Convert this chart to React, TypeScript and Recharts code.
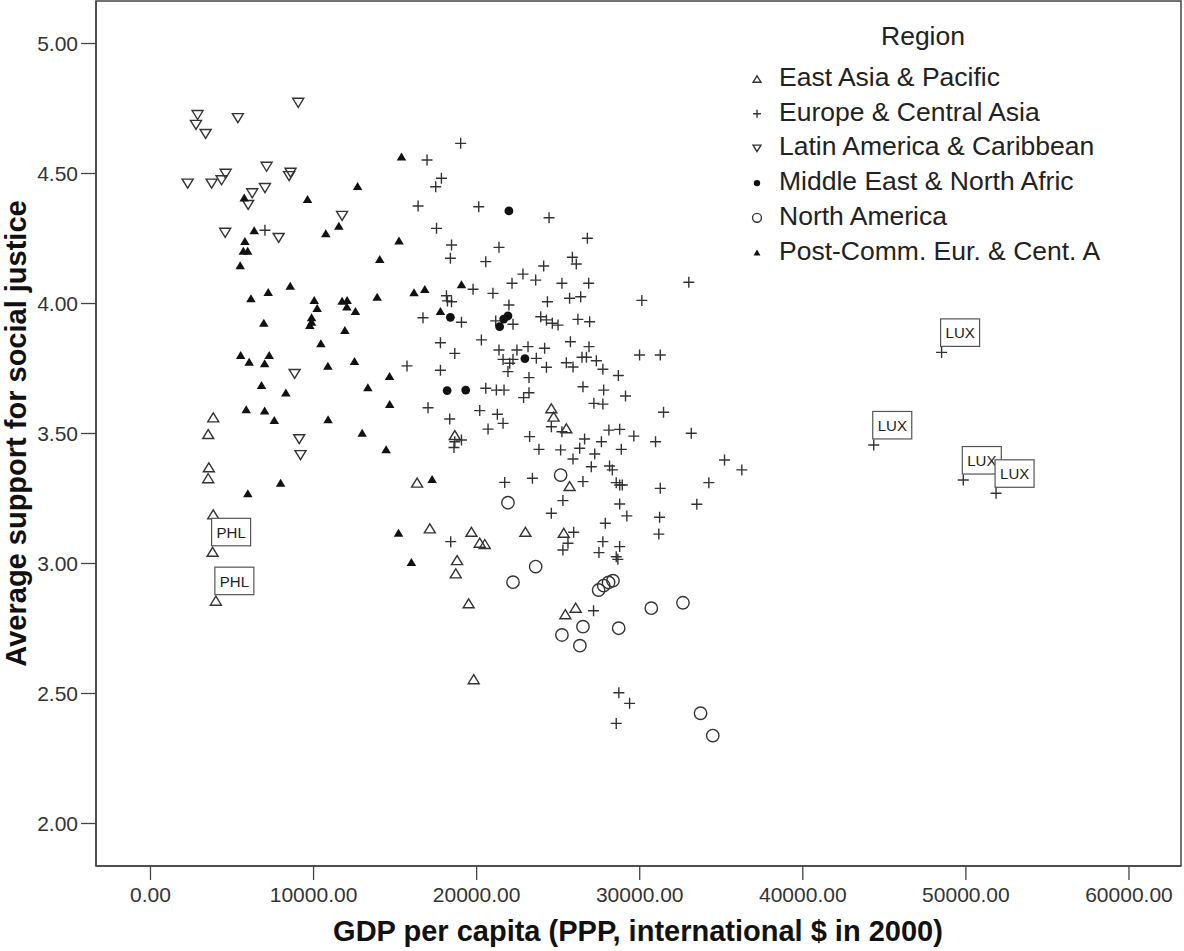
import React from 'react';
import { ScatterChart, Scatter, XAxis, YAxis, Legend, ReferenceArea } from 'recharts';

const FONT = '"Liberation Sans", Arial, Helvetica, sans-serif';
const INK = '#333';

const X_TICKS = [0, 10000, 20000, 30000, 40000, 50000, 60000];
const Y_TICKS = [2, 2.5, 3, 3.5, 4, 4.5, 5];
const X_DOMAIN: [number, number] = [-3340, 63190];
const Y_DOMAIN: [number, number] = [1.8365, 5.1635];

const X_TITLE = 'GDP per capita (PPP, international $ in 2000)';
const Y_TITLE = 'Average support for social justice';
const LEGEND_TITLE = 'Region';

const REGIONS = [
  'East Asia & Pacific',
  'Europe & Central Asia',
  'Latin America & Caribbean',
  'Middle East & North Afric',
  'North America',
  'Post-Comm. Eur. & Cent. A',
];

// [gdp per capita, average support]
const EAST_ASIA = [
  [3850, 3.562], [3540, 3.498], [3580, 3.370], [3540, 3.328], [3850, 3.189],
  [16350, 3.311], [17130, 3.135], [18660, 3.494], [18800, 3.013], [18720, 2.962],
  [19680, 3.122], [20190, 3.080], [20500, 3.075], [19510, 2.847], [19820, 2.555],
  [22990, 3.122], [24580, 3.597], [24720, 3.565], [25500, 3.520], [25700, 3.298],
  [25340, 3.118], [25440, 2.805], [26070, 2.830],
];
const EAST_ASIA_PHL = [[3810, 3.045], [4010, 2.857]];

const EUROPE = [
  [19020, 4.616], [16960, 4.552], [17840, 4.482], [17490, 4.449], [16410, 4.375],
  [20130, 4.372], [24440, 4.330], [17540, 4.289], [26790, 4.251], [18460, 4.225],
  [21370, 4.216], [18390, 4.174], [20560, 4.161], [25870, 4.178], [26110, 4.152],
  [24110, 4.144], [22840, 4.113], [23620, 4.090], [22170, 4.078], [25230, 4.078],
  [26870, 4.078], [19780, 4.055], [21000, 4.039], [18150, 4.030], [18210, 4.010],
  [18460, 4.007], [24340, 4.007], [25700, 4.020], [26380, 4.026], [30130, 4.012],
  [33010, 4.082], [21980, 3.994], [16710, 3.945], [19070, 3.928], [21170, 3.933],
  [22230, 3.920], [23930, 3.949], [24280, 3.937], [24640, 3.924], [24990, 3.917],
  [26210, 3.939], [26930, 3.930], [17780, 3.849], [20290, 3.860], [18660, 3.808],
  [21370, 3.821], [22470, 3.821], [23150, 3.834], [24170, 3.828], [25750, 3.853],
  [26890, 3.834], [21620, 3.785], [22230, 3.785], [22030, 3.770], [23660, 3.789],
  [24280, 3.755], [25500, 3.772], [25910, 3.756], [26460, 3.793], [26730, 3.793],
  [27340, 3.780], [27740, 3.747], [29990, 3.802], [31260, 3.802], [15730, 3.760],
  [17780, 3.743], [21920, 3.738], [23210, 3.715], [28690, 3.723], [20560, 3.674],
  [21210, 3.667], [21680, 3.667], [23210, 3.657], [22880, 3.638], [26520, 3.680],
  [27790, 3.667], [29130, 3.644], [27190, 3.616], [27740, 3.613], [17020, 3.599],
  [18350, 3.556], [20190, 3.588], [21270, 3.574], [21620, 3.539], [20700, 3.517],
  [24580, 3.526], [25230, 3.507], [31460, 3.582], [33160, 3.501], [28110, 3.513],
  [28770, 3.516], [29640, 3.490], [30970, 3.468], [23250, 3.488], [26620, 3.479],
  [26320, 3.443], [27650, 3.468], [28870, 3.439], [23820, 3.439], [25150, 3.437],
  [25910, 3.402], [27240, 3.421], [27030, 3.372], [28150, 3.375], [28320, 3.360],
  [18660, 3.468], [19070, 3.475], [18610, 3.446], [21720, 3.312], [23420, 3.328],
  [26520, 3.315], [28560, 3.311], [28770, 3.302], [28930, 3.302], [31260, 3.289],
  [34240, 3.311], [25290, 3.242], [24580, 3.193], [28770, 3.229], [29210, 3.183],
  [31220, 3.178], [33500, 3.228], [27890, 3.155], [31170, 3.113], [25950, 3.120],
  [18410, 3.084], [25600, 3.078], [25290, 3.052], [27740, 3.084], [27500, 3.042],
  [28770, 3.065], [28560, 3.026], [28660, 3.016], [27170, 2.818], [28720, 2.503],
  [29380, 2.462], [28560, 2.385], [35200, 3.398], [36260, 3.360], [7020, 4.282],
];
const EUROPE_LUX = [[48510, 3.812], [44350, 3.456], [49840, 3.321], [51850, 3.270]];

const LATIN_AMERICA = [
  [2890, 4.725], [2790, 4.687], [3380, 4.652], [5360, 4.713], [9060, 4.772],
  [2280, 4.461], [3750, 4.461], [4360, 4.474], [4610, 4.499], [7120, 4.526],
  [8500, 4.490], [8590, 4.503], [7020, 4.444], [6240, 4.424], [5990, 4.379],
  [11750, 4.337], [4580, 4.272], [7860, 4.252], [8840, 3.729], [9120, 3.478],
  [9200, 3.417],
];

const MIDDLE_EAST = [
  [21980, 4.356], [18390, 3.947], [21920, 3.952], [21660, 3.940], [21410, 3.911],
  [22960, 3.788], [18190, 3.665], [19330, 3.667],
];

const NORTH_AMERICA = [
  [25150, 3.340], [21920, 3.234], [23620, 2.988], [22230, 2.928], [27480, 2.898],
  [27790, 2.915], [28090, 2.927], [28360, 2.934], [30710, 2.828], [32650, 2.849],
  [28710, 2.751], [25230, 2.725], [26520, 2.757], [26330, 2.684], [33730, 2.424],
  [34480, 2.338],
];

const POST_COMM = [
  [15390, 4.565], [12700, 4.452], [9630, 4.402], [5750, 4.408], [6360, 4.282],
  [11550, 4.299], [10750, 4.270], [15240, 4.242], [5790, 4.240], [5690, 4.203],
  [5960, 4.203], [5500, 4.147], [14060, 4.171], [8570, 4.068], [7220, 4.044],
  [6160, 4.020], [10040, 4.013], [10220, 3.983], [11750, 4.011], [12060, 4.013],
  [12040, 3.988], [12570, 3.971], [13900, 4.026], [16160, 4.043], [16820, 4.056],
  [6950, 3.926], [9880, 3.947], [9880, 3.930], [9770, 3.917], [11920, 3.898],
  [10450, 3.847], [5530, 3.802], [6050, 3.776], [7280, 3.802], [7000, 3.770],
  [10880, 3.761], [12510, 3.779], [14660, 3.721], [6810, 3.687], [8300, 3.658],
  [13330, 3.678], [14670, 3.613], [5870, 3.593], [7000, 3.588], [7590, 3.552],
  [10890, 3.555], [12980, 3.503], [14450, 3.439], [7980, 3.311], [5970, 3.270],
  [15210, 3.118], [16000, 3.006], [19070, 4.074], [17780, 3.971], [17270, 3.325],
];

const toPoints = (rows: number[][]) => rows.map(([gdp, support]) => ({ gdp, support }));

// marker glyphs, k = scale (1 in plot, smaller in legend)
const triUp = (cx: number, cy: number, w: number, h: number) =>
  `${cx},${cy - h / 2} ${cx - w / 2},${cy + h / 2} ${cx + w / 2},${cy + h / 2}`;
const triDown = (cx: number, cy: number, w: number, h: number) =>
  `${cx},${cy + h / 2} ${cx - w / 2},${cy - h / 2} ${cx + w / 2},${cy - h / 2}`;

type Glyph = (cx: number, cy: number, k: number) => React.ReactElement;

const MARKERS: Glyph[] = [
  (cx, cy, k) => <polygon points={triUp(cx, cy, 11 * k, 9 * k)} fill="none" stroke={INK} strokeWidth={1.4} />,
  (cx, cy, k) => (
    <path d={`M${cx - 5.5 * k},${cy}H${cx + 5.5 * k}M${cx},${cy - 5.5 * k}V${cy + 5.5 * k}`} stroke={INK} strokeWidth={1.4} fill="none" />
  ),
  (cx, cy, k) => <polygon points={triDown(cx, cy, 11 * k, 9 * k)} fill="none" stroke={INK} strokeWidth={1.4} />,
  (cx, cy, k) => <circle cx={cx} cy={cy} r={4.4 * k} fill="#111" />,
  (cx, cy, k) => <circle cx={cx} cy={cy} r={6.2 * k} fill="none" stroke={INK} strokeWidth={1.4} />,
  (cx, cy, k) => <polygon points={triUp(cx, cy, 9.5 * k, 8 * k)} fill="#111" />,
];

const shapeFor = (i: number) => (props: any) => MARKERS[i](props.cx, props.cy, 1);

const taggedShape = (i: number, tag: string) => (props: any) => {
  const { cx, cy } = props;
  return (
    <g>
      <rect x={cx - 1} y={cy - 33.5} width={39} height={27.5} fill="#fff" stroke="#555" strokeWidth={1.2} />
      <text x={cx + 4} y={cy - 14} fontSize={15} fontFamily={FONT} fill="#222">{tag}</text>
      {MARKERS[i](cx, cy, 1)}
    </g>
  );
};

const SERIES = [EAST_ASIA, EUROPE, LATIN_AMERICA, MIDDLE_EAST, NORTH_AMERICA, POST_COMM];

function RegionLegend() {
  return (
    <svg width={480} height={280} style={{ display: 'block' }}>
      <text x={223} y={45} textAnchor="middle" fontSize={26.5} fontFamily={FONT} fill="#222">{LEGEND_TITLE}</text>
      {REGIONS.map((name, i) => {
        const base = 86 + i * 34.7;
        return (
          <g key={name}>
            {MARKERS[i](57, base - 7, 0.72)}
            <text x={79} y={base} fontSize={26.5} fontFamily={FONT} fill="#222">{name}</text>
          </g>
        );
      })}
    </svg>
  );
}

function XTitle() {
  return (
    <text x={638} y={941} textAnchor="middle" fontSize={29} fontWeight="bold" fontFamily={FONT} fill="#111">{X_TITLE}</text>
  );
}

function YTitle() {
  return (
    <text transform="translate(26,433.5) rotate(-90)" textAnchor="middle" fontSize={29} fontWeight="bold" fontFamily={FONT} fill="#111">{Y_TITLE}</text>
  );
}

const tickStyle = { fill: '#333', fontSize: 21, fontFamily: FONT };

export default function App() {
  return (
    <div style={{ position: 'absolute', left: 0, top: 0, background: '#fff' }}>
      <ScatterChart width={1184} height={951} margin={{ top: 1, right: 3, bottom: 0, left: 0 }}>
        <XAxis
          type="number"
          dataKey="gdp"
          domain={X_DOMAIN}
          ticks={X_TICKS}
          interval={0}
          allowDataOverflow
          tickFormatter={(v: number) => v.toFixed(2)}
          tick={tickStyle}
          tickSize={14}
          tickMargin={7}
          height={85}
          axisLine={{ stroke: '#444', strokeWidth: 1.5 }}
          tickLine={{ stroke: '#444', strokeWidth: 1.3 }}
          label={<XTitle />}
        />
        <YAxis
          type="number"
          dataKey="support"
          domain={Y_DOMAIN}
          ticks={Y_TICKS}
          interval={0}
          allowDataOverflow
          tickFormatter={(v: number) => v.toFixed(2)}
          tick={tickStyle}
          tickSize={15}
          tickMargin={3}
          width={96}
          axisLine={{ stroke: '#444', strokeWidth: 1.5 }}
          tickLine={{ stroke: '#444', strokeWidth: 1.3 }}
          label={<YTitle />}
        />
        <ReferenceArea
          x1={X_DOMAIN[0]}
          x2={X_DOMAIN[1]}
          y1={Y_DOMAIN[0]}
          y2={Y_DOMAIN[1]}
          fill="none"
          stroke="#444"
          strokeWidth={1.5}
        />
        {SERIES.map((rows, i) => (
          <Scatter
            key={REGIONS[i]}
            name={REGIONS[i]}
            data={toPoints(rows)}
            shape={shapeFor(i)}
            isAnimationActive={false}
          />
        ))}
        <Scatter name="PHL" data={toPoints(EAST_ASIA_PHL)} shape={taggedShape(0, 'PHL')} isAnimationActive={false} legendType="none" />
        <Scatter name="LUX" data={toPoints(EUROPE_LUX)} shape={taggedShape(1, 'LUX')} isAnimationActive={false} legendType="none" />
        <Legend
          layout="vertical"
          align="center"
          verticalAlign="middle"
          content={() => <RegionLegend />}
          wrapperStyle={{ left: 700, top: 0, width: 480, height: 280 }}
        />
      </ScatterChart>
    </div>
  );
}
